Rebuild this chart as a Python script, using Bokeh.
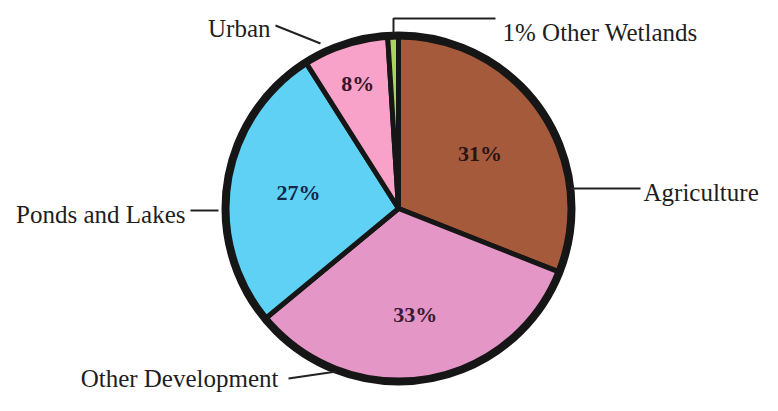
import math
from bokeh.plotting import figure
from bokeh.models import Range1d, ColumnDataSource
from bokeh.core.properties import value
from bokeh.embed import file_html
from bokeh.resources import INLINE

# ---- data ----
categories = ["Agriculture", "Other Development", "Ponds and Lakes", "Urban", "Other Wetlands"]
percents = [31, 33, 27, 8, 1]
pct_labels = ["31%", "33%", "27%", "8%", ""]
colors = ["#a65a3c", "#e496c6", "#5ed1f5", "#f8a2c9", "#a8d65c"]
pct_colors = ["#2a1414", "#3a1a30", "#14284a", "#3a1428", "#222222"]

# ---- layout ----
W, H = 762, 395
R = 173
pct_radius_frac = [0.57, 0.62, 0.585, 0.76, 0.0]
FONT = "Liberation Serif"

# outside label text positions (x, y, align) relative to pie centre, px
name_layout = {
    "Agriculture": (245, 16, "left"),
    "Other Development": (-120, -170, "right"),
    "Ponds and Lakes": (-213, -6, "right"),
    "Urban": (-128, 180, "right"),
    "Other Wetlands": (104, 176, "left"),
}
name_text = {
    "Other Wetlands": "1% Other Wetlands",
}
leaders = {
    "Agriculture": ([172, 242], [20, 20]),
    "Other Development": ([-110, -62], [-170, -163]),
    "Ponds and Lakes": ([-208, -180], [-2, -2]),
    "Urban": ([-123, -78], [183, 165]),
    "Other Wetlands": ([-5, -5, 97], [175, 190, 190]),
}

# ---- geometry from data ----
total = float(sum(percents))
starts, ends, lx, ly = [], [], [], []
cum = 0.0
for i, v in enumerate(percents):
    a = 90.0 - cum / total * 360.0
    b = 90.0 - (cum + v) / total * 360.0
    starts.append(math.radians(b))
    ends.append(math.radians(a))
    mid = math.radians((a + b) / 2.0)
    lx.append(R * pct_radius_frac[i] * math.cos(mid))
    ly.append(R * pct_radius_frac[i] * math.sin(mid))
    cum += v

src = ColumnDataSource(dict(cat=categories, start=starts, end=ends, color=colors,
                            lx=lx, ly=ly, lab=pct_labels, lc=pct_colors))

p = figure(width=W, height=H, output_backend="svg", toolbar_location=None,
           x_range=Range1d(-398, 364), y_range=Range1d(-187, 208),
           min_border=0, background_fill_color="white", border_fill_color="white")
p.axis.visible = False
p.grid.visible = False
p.outline_line_color = None

p.wedge(x=0, y=0, radius=R, start_angle="start", end_angle="end", direction="anticlock",
        fill_color="color", line_color="#161616", line_width=5, source=src)
p.circle(x=0, y=0, radius=R, fill_color=None, line_color="#161616", line_width=8)

p.text(x="lx", y="ly", text="lab", text_color="lc", text_font=value(FONT),
       text_font_size="22px", text_font_style="bold", text_align="center",
       text_baseline="middle", source=src)

for cat in categories:
    xs, ys = leaders[cat]
    p.line(xs, ys, line_color="#222222", line_width=2)
    tx, ty, al = name_layout[cat]
    p.text(x=[tx], y=[ty], text=[name_text.get(cat, cat)], text_color="#1e1e1e",
           text_font=value(FONT), text_font_size="25px", text_align=al,
           text_baseline="alphabetic")

open("out.html", "w").write(file_html(p, INLINE))
